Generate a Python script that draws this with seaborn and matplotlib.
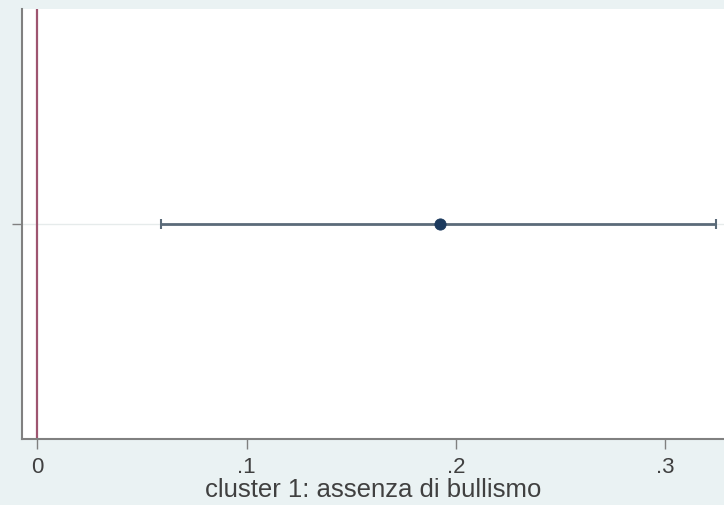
"""Coefficient plot: cluster 1 (assenza di bullismo)."""

import matplotlib
matplotlib.use("Agg")
import matplotlib.pyplot as plt
import pandas as pd
import seaborn as sns

# values
terms = ["cluster 1"]
coef = [0.1924]
ci_low = [0.0590]
ci_high = [0.3243]
xticks = [0, 0.1, 0.2, 0.3]
xtick_labels = ["0", ".1", ".2", ".3"]
xlabel = "cluster 1: assenza di bullismo"

sns.set_theme(style="white")
plt.rcParams["font.family"] = ["Liberation Sans", "DejaVu Sans"]

df = pd.DataFrame({"term": terms, "coef": coef, "lo": ci_low, "hi": ci_high})
df["pos"] = range(1, len(df) + 1)

fig = plt.figure(figsize=(7.24, 5.06), dpi=100, facecolor="#eaf2f3")
ax = fig.add_axes([22 / 724, 66 / 506, 702 / 724, 430 / 506])
ax.set_facecolor("white")

# light horizontal grid at the coefficient row
for p in df["pos"]:
    ax.axhline(p, color="#e6ebeb", lw=1, zorder=0)

ax.axvline(0, color="#9e5570", lw=1.6, zorder=1)

ax.errorbar(df["coef"], df["pos"],
            xerr=[df["coef"] - df["lo"], df["hi"] - df["coef"]],
            fmt="none", ecolor="#5b6b79", elinewidth=2, capsize=3.5, capthick=1.5, zorder=2)
sns.scatterplot(data=df, x="coef", y="pos", ax=ax, s=65, color="#1c3a5e",
                edgecolor="#1c3a5e", zorder=3, legend=False)

ax.set_xlim(-0.0074, 0.3282)
ax.set_ylim(0.5, 1.5)
ax.set_xticks(xticks)
ax.set_xticklabels(xtick_labels)
ax.set_yticks(df["pos"])
ax.set_yticklabels([""] * len(df))
ax.tick_params(axis="both", direction="out", length=7, width=1, color="#808080",
               labelsize=16, labelcolor="#404040", pad=5, bottom=True, left=True)
ax.set_xlabel(xlabel, fontsize=18.5, color="#404040", labelpad=0)
ax.set_ylabel("")

for side in ("top", "right"):
    ax.spines[side].set_visible(False)
for side in ("left", "bottom"):
    ax.spines[side].set_color("#808080")
    ax.spines[side].set_linewidth(1.5)

fig.savefig("out.png", dpi=100, facecolor=fig.get_facecolor())
plt.close(fig)
